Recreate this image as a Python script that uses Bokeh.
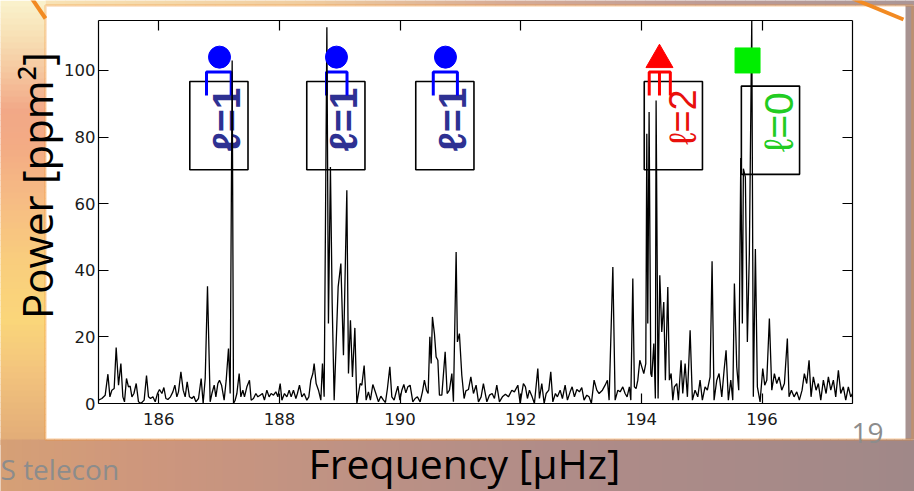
import math
from bokeh.plotting import figure
from bokeh.models import (Range1d, BoxAnnotation, Label, PolyAnnotation, LinearAxis,
                          FixedTicker, CustomJSTickFormatter)
from bokeh.embed import file_html
from bokeh.resources import INLINE
from bokeh.core.properties import value

# ---------------- data ----------------
freq = [185.000, 185.056, 185.111, 185.156, 185.189, 185.222, 185.260, 185.293, 185.332, 185.371,
        185.404, 185.431, 185.464, 185.497, 185.525, 185.554, 185.587, 185.625, 185.663, 185.703,
        185.757, 185.796, 185.829, 185.862, 185.902, 185.940, 185.978, 186.011, 186.051, 186.084,
        186.117, 186.150, 186.193, 186.233, 186.266, 186.299, 186.326, 186.366, 186.404, 186.437,
        186.470, 186.508, 186.548, 186.581, 186.614, 186.658, 186.702, 186.735, 186.769, 186.807,
        186.851, 186.880, 186.918, 186.946, 186.979, 187.006, 187.040, 187.083, 187.117, 187.155,
        187.183, 187.216, 187.238, 187.266, 187.294, 187.332, 187.360, 187.393, 187.420, 187.460,
        187.503, 187.531, 187.569, 187.609, 187.642, 187.680, 187.718, 187.751, 187.791, 187.829,
        187.862, 187.901, 187.940, 187.974, 188.012, 188.040, 188.083, 188.123, 188.161, 188.194,
        188.232, 188.272, 188.298, 188.332, 188.371, 188.409, 188.454, 188.487, 188.520, 188.554,
        188.575, 188.608, 188.647, 188.686, 188.713, 188.741, 188.762, 188.786, 188.812, 188.845,
        188.874, 188.907, 188.940, 188.973, 189.018, 189.061, 189.117, 189.144, 189.177, 189.210,
        189.250, 189.283, 189.338, 189.366, 189.404, 189.437, 189.475, 189.508, 189.548, 189.598,
        189.641, 189.681, 189.724, 189.757, 189.790, 189.830, 189.863, 189.901, 189.929, 189.963,
        189.996, 190.029, 190.062, 190.095, 190.128, 190.166, 190.211, 190.249, 190.287, 190.332,
        190.370, 190.403, 190.437, 190.465, 190.493, 190.515, 190.536, 190.569, 190.597, 190.626,
        190.652, 190.692, 190.747, 190.780, 190.818, 190.858, 190.884, 190.929, 190.950, 190.983,
        191.023, 191.061, 191.090, 191.133, 191.173, 191.216, 191.260, 191.299, 191.343, 191.381,
        191.438, 191.481, 191.526, 191.564, 191.603, 191.647, 191.696, 191.746, 191.796, 191.852,
        191.895, 191.952, 191.990, 192.044, 192.078, 192.111, 192.144, 192.189, 192.227, 192.283,
        192.310, 192.349, 192.388, 192.421, 192.465, 192.498, 192.532, 192.575, 192.608, 192.653,
        192.691, 192.736, 192.774, 192.819, 192.852, 192.890, 192.930, 192.973, 193.012, 193.050,
        193.095, 193.133, 193.171, 193.216, 193.261, 193.299, 193.354, 193.399, 193.437, 193.465,
        193.527, 193.565, 193.610, 193.648, 193.692, 193.730, 193.763, 193.801, 193.825, 193.858,
        193.884, 193.912, 193.941, 193.974, 194.007, 194.040, 194.073, 194.090, 194.106, 194.128,
        194.156, 194.173, 194.206, 194.232, 194.244, 194.277, 194.305, 194.338, 194.371, 194.398,
        194.438, 194.464, 194.493, 194.521, 194.547, 194.587, 194.614, 194.658, 194.686, 194.725,
        194.763, 194.808, 194.846, 194.890, 194.935, 194.973, 195.011, 195.056, 195.094, 195.139,
        195.172, 195.205, 195.250, 195.288, 195.333, 195.371, 195.404, 195.442, 195.482, 195.515,
        195.542, 195.581, 195.614, 195.648, 195.674, 195.691, 195.724, 195.757, 195.790, 195.830,
        195.856, 195.890, 195.923, 195.968, 196.012, 196.045, 196.079, 196.122, 196.162, 196.205,
        196.244, 196.283, 196.327, 196.371, 196.420, 196.448, 196.487, 196.531, 196.576, 196.619,
        196.664, 196.702, 196.741, 196.780, 196.813, 196.851, 196.896, 196.934, 196.974, 197.017,
        197.062, 197.100, 197.140, 197.183, 197.222, 197.266, 197.305, 197.348, 197.388, 197.431,
        197.471, 197.500]

power = [1, 1.5, 2.5, 8.8, 2, 4, 4.5, 16.8, 5.5, 12,
         2, 0.5, 7.5, 5, 5.2, 2, 3, 6, 0.5, 0,
         1, 8.4, 2, 1.5, 2, 0.5, 3, 4.2, 3, 4.8,
         1.5, 1.2, 2, 3.5, 5.5, 2, 3.5, 9.5, 4, 2,
         6.5, 2, 1.5, 2.2, 0.5, 1.5, 7.5, 0, 7.5, 35.2,
         0.5, 3, 5.5, 2, 6, 7, 5.5, 1, 7, 16.5,
         3, 103, 0, 1, 3, 9, 2, 4, 2, 5,
         7, 1, 1.5, 3, 2, 2.5, 3, 1, 4, 2,
         3, 2.5, 3.5, 2, 6, 1, 3, 2, 4, 2,
         4, 1.5, 3, 5.5, 2, 3, 1, 2, 7, 9,
         12, 6, 4, 1, 12, 2, 52, 113, 24, 71,
         30, 1, 18, 35, 42, 14.5, 64, 9, 25, 8,
         22.7, 0, 6, 5.5, 11.4, 1, 3.5, 1, 5.7, 3,
         0.5, 2.2, 1, 0.3, 4.5, 11, 2, 1, 3, 5.2,
         1, 4, 5.7, 3.2, 5, 5.5, 0.5, 1.5, 2, 0.5,
         3.5, 7, 4, 3, 20, 12, 26, 21, 14, 13,
         2.5, 2.5, 15.5, 3, 4, 9, 0.5, 45.5, 18.5, 21,
         8.5, 1.5, 3.8, 4.2, 8, 3, 5.5, 0.5, 2, 6,
         0.5, 2.5, 3, 1.5, 5.5, 0.5, 2, 2.8, 2, 4,
         3.5, 5.5, 0, 6, 5, 1.5, 4, 2, 0, 10.5,
         1.5, 6, 0, 3, 4, 9.5, 0.5, 3, 2, 4,
         1.5, 5.5, 1, 3.5, 5, 2, 4.2, 3.5, 4.8, 1,
         2.5, 2, 0, 7, 4, 3, 4, 5.5, 7, 1,
         41, 1, 4, 3.5, 5, 3, 2, 5, 1, 37.5,
         5, 4.5, 7, 13, 11, 9, 12, 81, 24, 87.5,
         9, 8, 18, 1.5, 91, 1.5, 38.5, 21.5, 30.5, 7,
         35, 7, 9, 1, 5, 6, 1, 13, 3, 12,
         2, 22, 1, 4, 2, 7, 1, 5, 4, 8,
         42.7, 1, 7, 9, 2, 10, 16, 1, 7, 1,
         36, 11, 4, 73.7, 24, 70.5, 68, 18.5, 45, 115,
         2, 46.4, 5, 0.5, 10.5, 5.5, 7, 25.5, 4, 9,
         6, 8, 4, 6, 19.5, 2, 4, 2, 3.5, 1,
         4, 9, 6, 13, 2, 8, 4, 6, 1, 7,
         3, 8, 4, 7, 2, 10, 3, 5, 1, 5,
         2, 3]

x_ticks = [186, 188, 190, 192, 194, 196]
y_ticks = [0, 20, 40, 60, 80, 100]

# mode identifications (frequencies in muHz)
l1_freq = [187.006, 188.945, 190.752]
l1_split_lo = [186.79, 188.78, 190.55]
l1_split_hi = [187.20, 189.12, 190.95]
l2_freq = [194.30]
l2_split = [194.13, 194.30, 194.48]
l0_freq = [195.76]

label_l1 = "ℓ=1"
label_l2 = "ℓ=2"
label_l0 = "ℓ=0"

# ---------------- geometry ----------------
W, H = 914, 491
# chart area in page pixels (left, top, right, bottom)
CL, CT, CR, CB = 98, 20, 852, 403
X0, X1 = 185.0, 197.5
Y0, Y1 = 0.0, 115.0
SX = (X1 - X0) / (CR - CL)
SY = (Y1 - Y0) / (CB - CT)


def fx(px):
    return X0 + (px - CL) * SX


def fy(py):
    return Y0 + (CB - py) * SY


p = figure(width=W, height=H, x_range=Range1d(fx(0), fx(W)), y_range=Range1d(fy(H), fy(0)),
           output_backend="svg", toolbar_location=None,
           min_border_left=0, min_border_right=0, min_border_top=0, min_border_bottom=0,
           x_axis_location=None, y_axis_location=None)
p.grid.grid_line_color = None
p.border_fill_color = "white"
p.background_fill_color = "white"
p.outline_line_color = None


def lerp_color(stops, t):
    for (t0, c0), (t1, c1) in zip(stops[:-1], stops[1:]):
        if t0 <= t <= t1:
            a = (t - t0) / (t1 - t0) if t1 > t0 else 0
            return "#%02x%02x%02x" % tuple(int(round(c0[i] + (c1[i] - c0[i]) * a)) for i in range(3))
    return "#%02x%02x%02x" % stops[-1][1]


def band(x0, x1, y0, y1, color):
    p.add_layout(BoxAnnotation(left=fx(x0), right=fx(x1), top=fy(y0), bottom=fy(y1),
                               fill_color=color, fill_alpha=1.0, line_color=None,
                               level="underlay"))


# slide background around the chart panel
left_stops = [(0, (250, 242, 205)), (30, (248, 228, 185)), (70, (245, 200, 160)),
              (110, (242, 168, 135)), (150, (243, 172, 132)), (200, (246, 188, 132)),
              (260, (249, 205, 125)), (320, (250, 214, 122)), (370, (243, 196, 125)),
              (440, (226, 172, 120))]
step = 6
for y in range(0, 440, step):
    band(-2, 45, y, y + step + 0.5, lerp_color(left_stops, y + step / 2))

bottom_stops = [(0, (214, 160, 118)), (150, (205, 150, 125)), (350, (190, 146, 132)),
                (550, (176, 140, 136)), (750, (168, 138, 136)), (916, (160, 136, 136))]
step = 8
for x in range(-2, 916, step):
    band(x, x + step + 0.5, 439, H + 2, lerp_color(bottom_stops, x + step / 2))

top_stops = [(45, (248, 226, 180)), (300, (240, 205, 160)), (500, (215, 172, 150)),
             (700, (190, 156, 150)), (916, (170, 150, 150))]
step = 10
for x in range(45, 916, step):
    band(x, x + step + 0.5, -2, 5, lerp_color(top_stops, x + step / 2))

band(905, W + 2, 5, 439, "#a89391")

# orange frame of the zoom panel and the callout lines
ORANGE = "#f28a22"
p.add_layout(BoxAnnotation(left=fx(45), right=fx(912), top=fy(5), bottom=fy(439),
                           fill_color=None, fill_alpha=0, line_color=ORANGE, line_width=2.5,
                           level="underlay"))


def thick_line(xa, ya, xb, yb, w, color):
    dx, dy = xb - xa, yb - ya
    n = math.hypot(dx, dy)
    ox, oy = -dy / n * w / 2, dx / n * w / 2
    xs = [fx(xa + ox), fx(xb + ox), fx(xb - ox), fx(xa - ox)]
    ys = [fy(ya + oy), fy(yb + oy), fy(yb - oy), fy(ya - oy)]
    p.add_layout(PolyAnnotation(xs=xs, ys=ys, fill_color=color, fill_alpha=1.0,
                                line_color=None, level="underlay"))


thick_line(30, -4, 45, 18, 4, ORANGE)
thick_line(852, -2, 903, 19, 4, ORANGE)

# ---------------- axes (fixed at the chart box edges) ----------------
def style_axis(ax, labels):
    ax.axis_line_color = "black"
    ax.axis_line_width = 1.2
    ax.major_tick_in = 10
    ax.major_tick_out = 0
    ax.major_tick_line_color = "black"
    ax.major_tick_line_width = 1.2
    ax.minor_tick_line_color = None
    ax.major_label_text_font = "DejaVu Sans"
    ax.major_label_text_font_size = "16.5px"
    ax.major_label_text_color = "#1a1a1a"
    if not labels:
        ax.formatter = CustomJSTickFormatter(code="return ''")
        ax.major_label_standoff = 0


xb = LinearAxis(ticker=FixedTicker(ticks=x_ticks), fixed_location=Y0, bounds=(X0, X1))
style_axis(xb, True)
xb.major_label_standoff = 9
p.add_layout(xb, "below")

xt = LinearAxis(ticker=FixedTicker(ticks=x_ticks), fixed_location=Y1, bounds=(X0, X1))
style_axis(xt, False)
p.add_layout(xt, "above")

yl = LinearAxis(ticker=FixedTicker(ticks=y_ticks), fixed_location=X0, bounds=(Y0, Y1))
style_axis(yl, True)
yl.major_label_standoff = 3
p.add_layout(yl, "left")

yr = LinearAxis(ticker=FixedTicker(ticks=y_ticks), fixed_location=X1, bounds=(Y0, Y1))
style_axis(yr, False)
p.add_layout(yr, "right")

# ---------------- mode annotations ----------------
box_w, box_h = 0.965, 26.5
l1_box_x = [f - 0.01 for f in l1_freq]
p.rect(x=l1_box_x, y=[83.45] * 3, width=box_w, height=box_h, fill_color=None,
       line_color="black", line_width=1.6)
p.rect(x=[l2_freq[0] + 0.23], y=[83.45], width=box_w, height=box_h, fill_color=None,
       line_color="black", line_width=1.6)
p.rect(x=[l0_freq[0] + 0.38], y=[82.05], width=box_w, height=box_h, fill_color=None,
       line_color="black", line_width=1.6)

p.text(x=[f + 0.12 for f in l1_freq], y=[85.3] * 3, text=[label_l1] * 3, angle=math.pi / 2,
       text_font=value("Liberation Sans"), text_font_size=value("39px"),
       text_font_style="bold", text_color="#2e3192", text_align="center",
       text_baseline="middle")
p.text(x=[l2_freq[0] + 0.39], y=[86.0], text=[label_l2], angle=math.pi / 2,
       text_font=value("Liberation Sans"), text_font_size=value("38px"),
       text_color="#e8100c", text_align="center", text_baseline="middle")
p.text(x=[l0_freq[0] + 0.52], y=[84.5], text=[label_l0], angle=math.pi / 2,
       text_font=value("Liberation Sans"), text_font_size=value("41px"),
       text_color="#22cc22", text_align="center", text_baseline="middle")

# multiplet brackets
BLUE = "#0000ff"
RED = "#ff0000"
bx, by = [], []
for lo, hi in zip(l1_split_lo, l1_split_hi):
    bx.append([lo, lo, hi, hi])
    by.append([92.5, 99.5, 99.5, 92.5])
p.multi_line(xs=bx, ys=by, line_color=BLUE, line_width=3)

rx = [[l2_split[0], l2_split[0], l2_split[2], l2_split[2]], [l2_split[1], l2_split[1]]]
ry = [[92.5, 99.5, 99.5, 92.5], [99.5, 92.5]]
p.multi_line(xs=rx, ys=ry, line_color=RED, line_width=3)

# spectrum
p.line(freq, power, line_color="black", line_width=1.3)

# mode markers
p.scatter(l1_freq, [104] * 3, marker="circle", size=22, color=BLUE)
p.scatter(l2_freq, [103.2], marker="triangle", size=27, color=RED)
p.scatter(l0_freq, [103.0], marker="square", size=25, color="#00ee00")

# ---------------- slide texts ----------------
def slide_label(text, bx_px, by_px, size, color, angle=0.0, align="left"):
    # anchor shifted so that the alphabetic baseline lands on (bx_px, by_px)
    shift = 0.36 * size
    ax_px = bx_px - shift * math.sin(angle)
    ay_px = by_px - shift * math.cos(angle)
    p.add_layout(Label(x=fx(ax_px), y=fy(ay_px), text=text, angle=angle,
                       text_font="Open Sans", text_font_size="%dpx" % size,
                       text_color=color, text_align=align, text_baseline="alphabetic"))


slide_label("Power [ppm²]", 51, 185, 42, "black", angle=math.pi / 2, align="center")
slide_label("Frequency [μHz]", 464, 477, 41, "black", align="center")
slide_label("19", 851, 443, 28, "#8c8c8c")
slide_label("S telecon", 0, 479, 28, "#8c8c8c")

open("out.html", "w").write(file_html(p, INLINE))
